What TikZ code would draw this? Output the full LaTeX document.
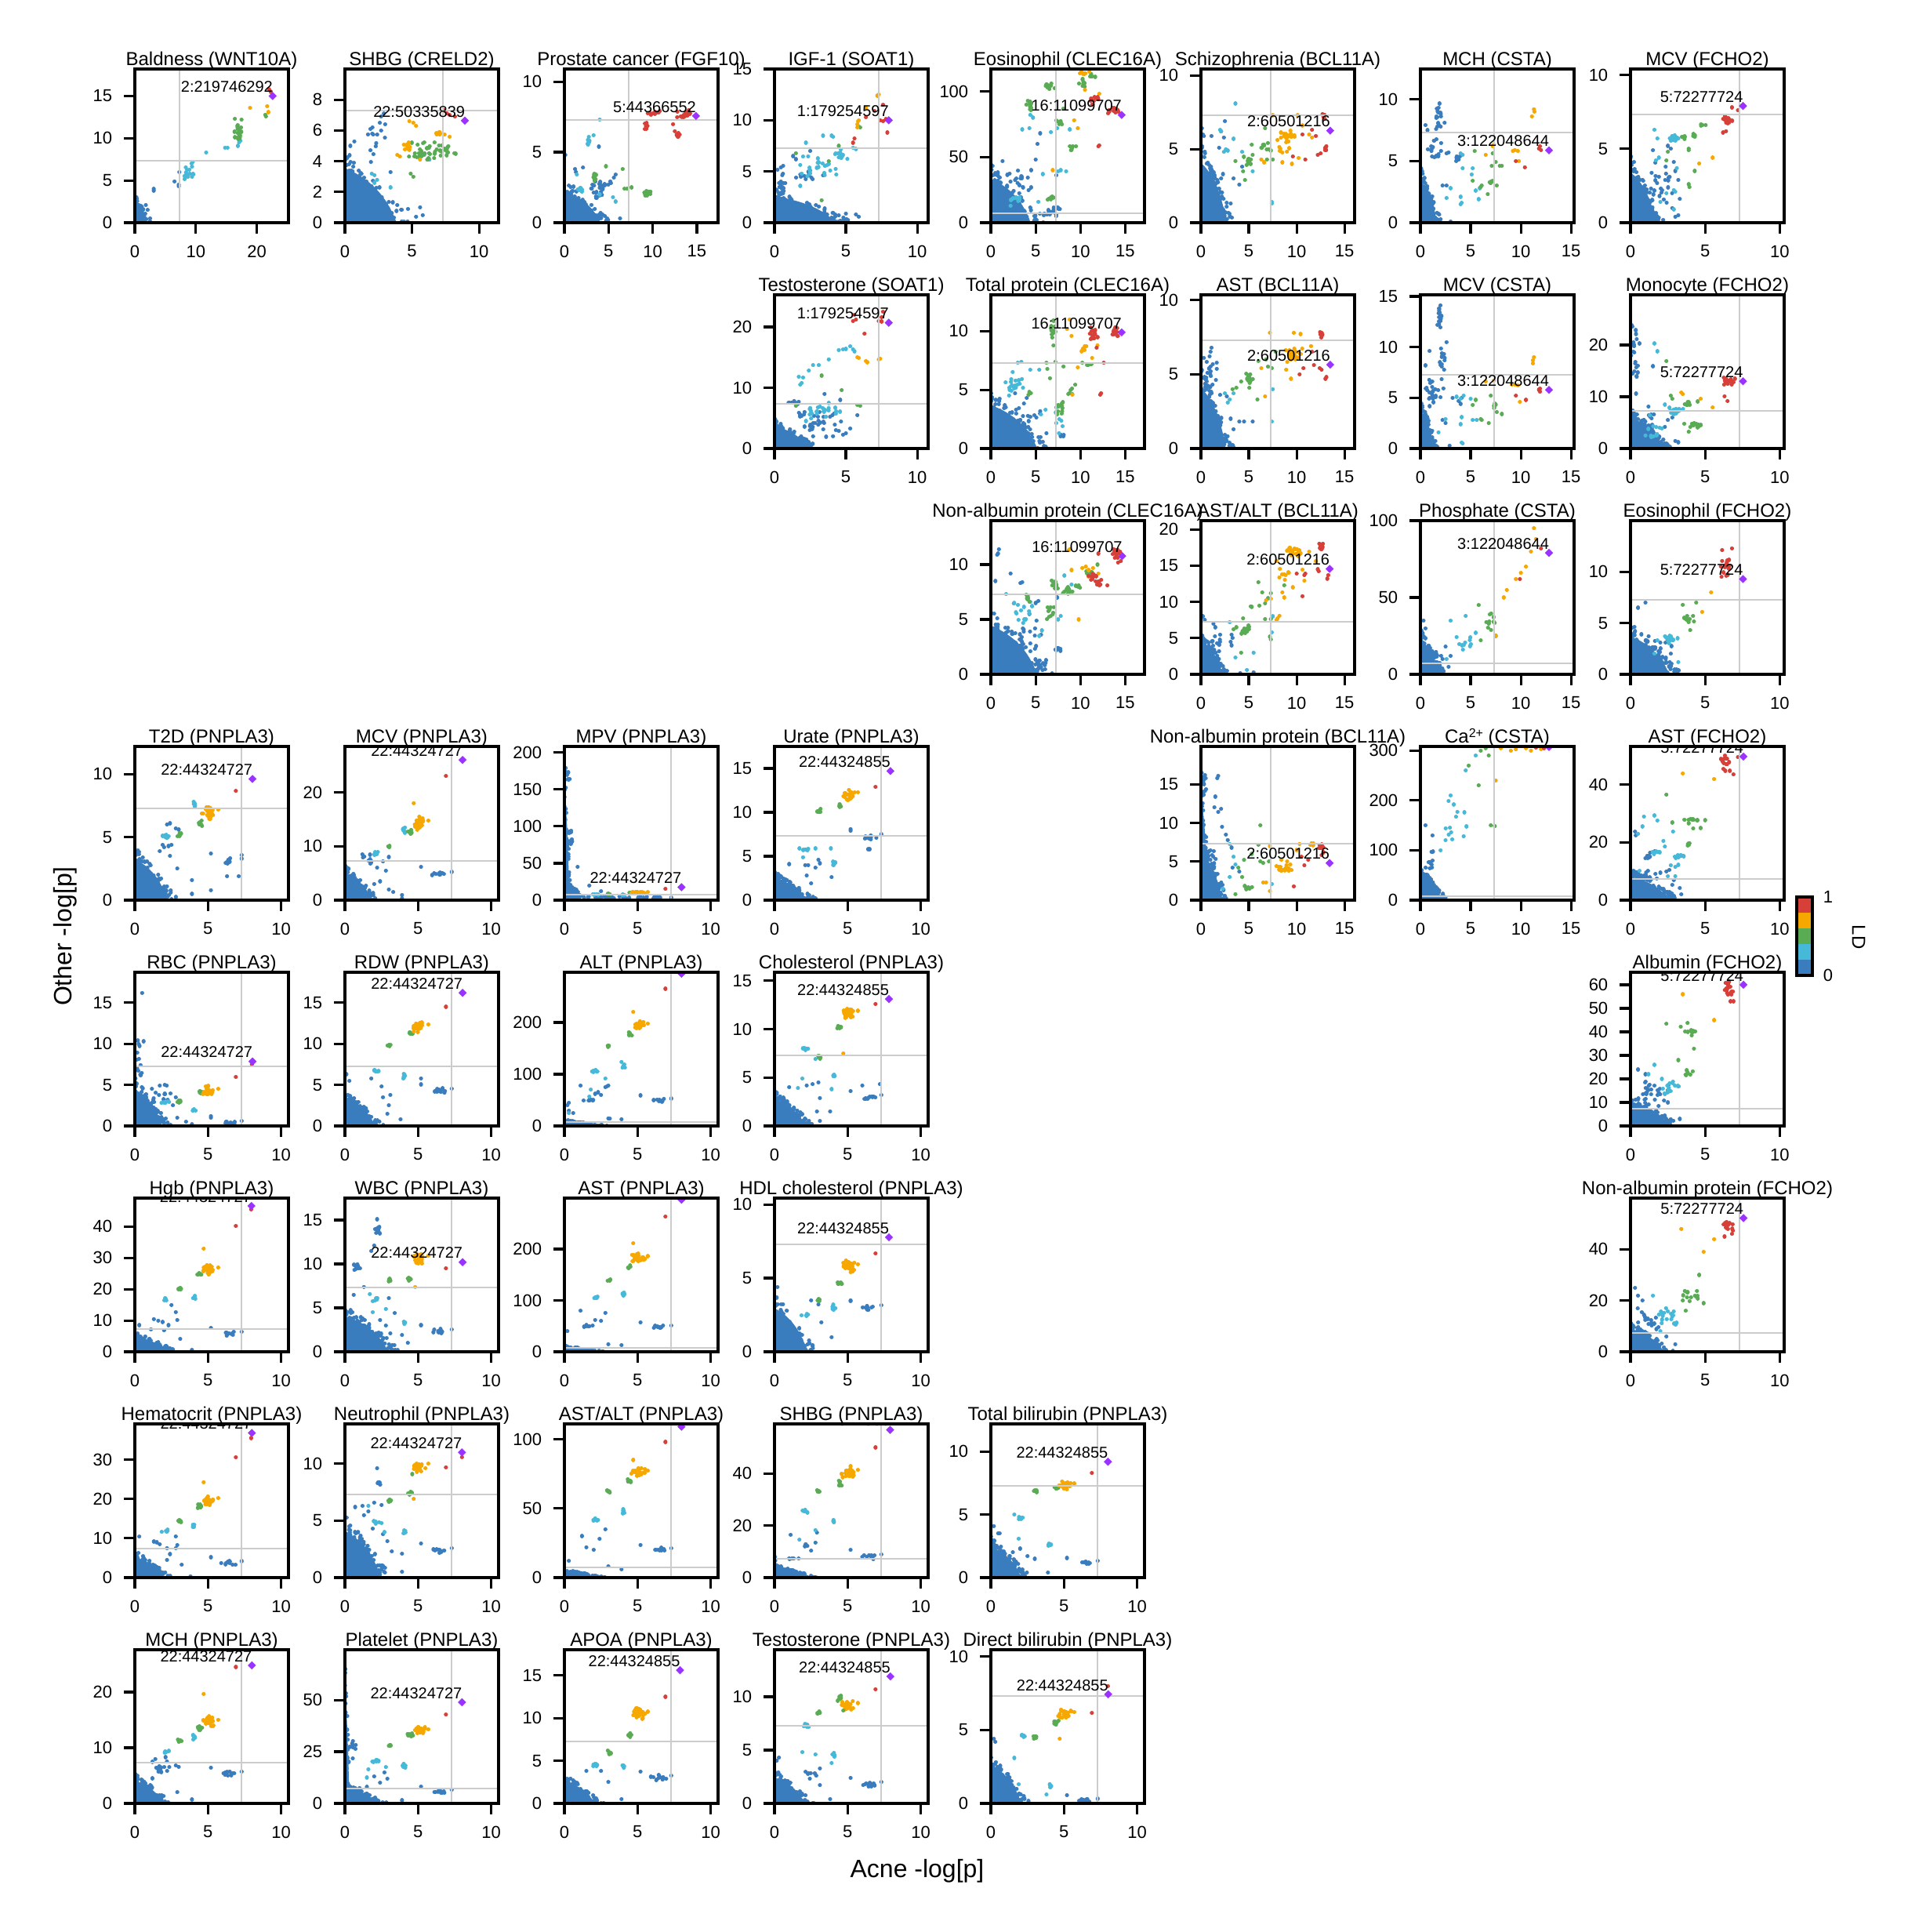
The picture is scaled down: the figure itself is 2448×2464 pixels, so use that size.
\documentclass[tikz,border=0pt]{standalone}
\usepackage{fontspec}
\setmainfont{Liberation Sans}
\definecolor{cb}{RGB}{58,125,190}
\definecolor{clb}{RGB}{70,185,216}
\definecolor{cg}{RGB}{90,172,84}
\definecolor{co}{RGB}{247,168,0}
\definecolor{cr}{RGB}{214,64,56}
\definecolor{cp}{RGB}{155,50,255}
\definecolor{thr}{RGB}{204,204,204}
\tikzset{
 frame/.style={draw=black,line width=0.8pt},
 tk/.style={draw=black,line width=0.8pt},
 ticklab/.style={font=\fontsize{5.5}{6.6}\selectfont,inner sep=0pt},
 ttl/.style={font=\fontsize{6}{7.2}\selectfont,inner sep=0pt,anchor=base},
 snp/.style={font=\fontsize{5}{6}\selectfont,inner sep=0pt,anchor=base east},
 thrline/.style={draw=thr,line width=0.5pt},
 axlab/.style={font=\fontsize{8}{9.6}\selectfont,inner sep=0pt},
 dotst/.style={line width=1.3pt,line cap=round},
}
\newcommand\Dt[3]{\draw[dotst,#1] ({#2},{#3}) -- ++(0.01pt,0pt);}
\newcommand\Dts[2]{\draw[dotst,#1] \foreach \xa/\ya in {#2}{(\xa,\ya) -- ++(0.01pt,0pt)};}
\newcommand\Cl[6]{\draw[dotst,#1] \foreach \ii in {1,...,#2}{({#3+#5*(rand+rand)/2},{#4+#6*(rand+rand)/2}) -- ++(0.01pt,0pt)};}
\newcommand\Bl[3]{%
 \fill[cb] (0,0) -- ({0.74*#2},0) .. controls ({0.6*#2},{0.36*#3}) and ({0.36*#2},{0.6*#3}) .. (0,{0.74*#3}) -- cycle;
 \pgfmathtruncatemacro\nnb{2*#1}%
 \draw[dotst,cb] \foreach \ii [evaluate=\ii as \bsv using rnd, evaluate=\ii as \btv using rnd] in {1,...,\nnb}{({#2*\bsv*\btv},{#3*\bsv*(1-\btv)}) -- ++(0.01pt,0pt)};}
\newcommand\DmN[2]{\fill[cp] ({#1},{#2}) ++(0pt,1.3pt) -- ++(1.3pt,-1.3pt) -- ++(-1.3pt,-1.3pt) -- ++(-1.3pt,1.3pt) -- cycle;}
\newcommand\Dm[3]{\DmN{#1}{#2}\path ({#1},{#2}) ++(0.2pt,1.2pt) node[snp]{#3};}
\newcommand\PN[8]{%
 \Cl{cb}{10}{6.45}{#7}{0.55}{#8*1.5}
 \Dt{cb}{7.3}{#7+#8}
 \Dt{cb}{5.2}{#7+#8*3}
 \Cl{clb}{7}{2.1}{#5}{0.3}{#8}
 \Cl{clb}{7}{4.05}{#6}{0.12}{#8*1.5}
 \Cl{cg}{7}{3.05}{#3}{0.15}{#8}
 \Cl{cg}{7}{4.45}{#4}{0.2}{#8*1.5}
 \Cl{co}{26}{5.05}{#2}{0.5}{#8*3}
 \Dt{co}{5.7}{#2+#8}
 \Dt{cr}{6.9}{#1}}
\newcommand\Panel[9]{%
 \pgfmathsetmacro\sxx{49/#3}%
 \pgfmathsetmacro\syy{49/#4}%
 \begin{scope}[shift={({#1},{#2+196})},x=\sxx pt,y=\syy pt]
  \begin{scope}
   \clip (0,0) rectangle (#3,#4);
   #8
   \draw[thrline] (7.3,0) -- (7.3,#4);
   \draw[thrline] (0,7.3) -- (#3,7.3);
   #9
  \end{scope}
  \draw[frame] (0,0) rectangle (#3,#4);
  \foreach \tv in {#5}{\draw[tk] (\tv,0) -- ++(0pt,-3.5pt); \path (\tv,0) ++(0pt,-7pt) node[ticklab,anchor=north]{\tv};}
  \foreach \tv in {#6}{\draw[tk] (0,\tv) -- ++(-3.5pt,0pt); \path (0,\tv) ++(-7pt,0pt) node[ticklab,anchor=east]{\tv};}
  \path ({#3/2},#4) ++(0pt,1.1pt) node[ttl]{#7};
 \end{scope}}
\begin{document}
\begin{tikzpicture}[x=0.25pt,y=-0.25pt]
\pgfmathsetseed{42}
\fill[white] (0,0) rectangle (2448,2464);
\useasboundingbox (0,0) rectangle (2448,2464);

% ---------------- Row 1
\Panel{172}{88}{25.2}{18.2}{0,10,20}{0,5,10,15}{Baldness (WNT10A)}{
 \Bl{60}{2.6}{3.4}
 \Dts{cb}{1.8/2.1,2.1/1.5,2.5/0.5,3.1/4.0,3.1/3.8,6.5/4.9,7.2/4.5,7.2/4.3,7.3/6.0}
 \Cl{clb}{14}{8.7}{5.9}{1.0}{0.9}
 \Dts{clb}{9.5/7.2,9.3/7.0,11.7/8.3,14.8/8.9,15.2/8.9,17.3/9.7,16.9/9.1,17.1/9.5}
 \Cl{cg}{22}{17.0}{10.7}{0.7}{1.1}
 \Dts{cg}{16.4/12.3,17.5/12.2,21.4/12.8,21.5/12.6}
 \Dts{co}{18.9/13.6,21.7/13.8,21.9/13.1}
 \Dts{cr}{22.0/15.8,22.3/15.5}
}{\Dm{22.6}{15.0}{2:219746292}}

\Panel{440}{88}{11.45}{10}{0,5,10}{0,2,4,6,8}{SHBG (CRELD2)}{
 \Bl{110}{5.2}{4.8}
 \Cl{cb}{10}{2.3}{5.2}{1.0}{1.6}
 \Dts{cb}{2.7/6.9,2.9/7.1,2.6/6.5,3.0/6.4,2.7/6.0,1.9/6.1,1.9/4.7,0.7/5.3,0.4/5.0,5.3/0.4,5.6/1.0,5.8/0.5,4.7/0.9,3.4/3.3}
 \Dts{clb}{2.0/3.2,2.2/3.1,2.4/2.8,2.2/2.6,3.4/2.3,5.9/4.4,6.3/4.1}
 \Cl{cg}{30}{5.6}{4.5}{1.6}{0.8}
 \Cl{cg}{18}{7.4}{4.7}{0.9}{0.6}
 \Dts{cg}{4.9/3.2,5.1/3.0}
 \Cl{co}{8}{4.6}{5.0}{0.4}{0.4}
 \Cl{co}{8}{7.0}{5.75}{0.5}{0.15}
 \Dts{co}{5.3/6.3,5.1/6.5,4.8/6.6,3.9/4.4,4.1/4.3,7.8/5.6,5.6/4.1}
 \Dts{cr}{7.6/7.1,7.8/7.0,8.2/6.9,7.4/7.3}
}{\Dm{8.94}{6.64}{22:50335839}}

\Panel{720}{88}{17.4}{10.9}{0,5,10,15}{0,5,10}{Prostate cancer (FGF10)}{
 \Bl{70}{5.5}{3.0}
 \Cl{cb}{30}{4.3}{2.4}{1.5}{0.8}
 \Cl{cb}{15}{0.7}{1.5}{0.7}{1.4}
 \Dts{cb}{0.1/4.8,1.2/3.8,1.3/3.6,2.1/3.9,3.9/5.4,6.3/0.3,4.3/0.6,3.5/0.5,5.6/3.2,5.8/3.4}
 \Cl{clb}{8}{1.8}{2.3}{0.5}{0.25}
 \Cl{clb}{8}{2.7}{5.8}{0.2}{0.5}
 \Dts{clb}{4.0/7.3,3.3/6.2,5.5/1.8,5.8/1.5,1.4/3.4,4.0/2.0}
 \Cl{cg}{8}{3.4}{3.3}{0.4}{0.4}
 \Dts{cg}{4.7/4.0,6.6/3.8,6.8/2.4,7.1/2.4,7.6/2.5}
 \Cl{cg}{12}{9.4}{2.1}{0.5}{0.2}
 \Cl{cr}{10}{10.2}{7.8}{1.0}{0.2}
 \Cl{cr}{6}{9.3}{6.9}{0.3}{0.5}
 \Cl{cr}{6}{12.8}{6.2}{0.4}{0.3}
 \Cl{cr}{14}{13.6}{7.6}{1.2}{0.4}
 \Dts{cr}{12.3/7.0,12.5/6.5}
}{\Dm{14.9}{7.57}{5:44366552}}

\Panel{988}{88}{10.76}{15}{0,5,10}{0,5,10,15}{IGF-1 (SOAT1)}{
 \Bl{90}{5.8}{3.5}
 \Cl{cb}{30}{0.5}{3.5}{0.5}{3.0}
 \Cl{cb}{10}{2.3}{4.5}{1.0}{1.2}
 \Dts{cb}{5.7/0.8,5.9/0.6,5.0/0.9,1.3/6.5,1.5/6.2,2.5/7.0,3.4/4.6,4.5/0.7,4.0/0.5}
 \Cl{clb}{25}{3.2}{5.5}{1.6}{1.3}
 \Cl{clb}{12}{4.7}{6.7}{0.6}{0.7}
 \Dts{clb}{5.5/7.3,5.7/7.2,3.4/8.5,4.0/8.5,4.1/8.4,2.2/7.8,1.9/4.8,1.8/3.6}
 \Dts{cg}{1.5/6.8,3.3/2.2,5.9/9.4,6.0/9.3,4.5/7.5,3.8/6.0}
 \Dts{co}{5.8/9.6,5.85/9.9,5.9/10.0,6.4/11.2,7.2/12.4,7.3/12.5,5.8/9.3}
 \Dts{cr}{5.5/7.8,5.6/8.2,6.4/10.3,7.4/10.0,7.6/9.9,7.8/10.1,7.9/8.8,7.6/11.5,7.0/10.9}
}{\Dm{8.0}{10.0}{1:179254597}}

\Panel{1264}{88}{17.15}{117}{0,5,10,15}{0,50,100}{Eosinophil (CLEC16A)}{
 \Bl{100}{6.0}{45}
 \Cl{cb}{20}{3.0}{30}{2.0}{12}
 \Cl{cb}{15}{6.5}{7}{1.5}{4}
 \Cl{cb}{8}{7.3}{11}{0.6}{1.0}
 \Dts{cb}{5.5/68,5.2/60,5.0/48,1.3/47,7.3/36,4.5/40}
 \Cl{clb}{8}{2.8}{18}{0.8}{4}
 \Dts{clb}{7.5/39,7.8/40,8.4/39,5.8/37,4.7/80,4.4/82,3.5/71,4.3/72,7.4/72,8.8/71,7.3/78,6.7/69,2.2/13,5.3/16}
 \Cl{cg}{8}{6.7}{18}{0.5}{2.5}
 \Cl{cg}{10}{4.3}{88}{0.5}{6}
 \Cl{cg}{12}{6.5}{104}{0.9}{3}
 \Cl{cg}{8}{7.7}{77}{0.5}{5}
 \Cl{cg}{5}{9.0}{57}{0.3}{3}
 \Cl{cg}{8}{10.3}{106}{0.6}{4}
 \Cl{cg}{6}{11.3}{112}{0.4}{2}
 \Dts{cg}{9.5/58,8.1/87}
 \Cl{co}{6}{10.3}{114}{0.4}{2}
 \Dts{co}{11.0/115,9.3/78,9.7/72,10.5/101,12.1/98,6.9/40}
 \Cl{cr}{8}{11.6}{94}{0.6}{2}
 \Cl{cr}{12}{13.7}{85}{0.8}{3}
 \Dts{cr}{12.1/59,12.0/58,11.3/90}
}{\Dm{14.6}{82}{16:11099707}}

\Panel{1532}{88}{16.05}{10.44}{0,5,10,15}{0,5,10}{Schizophrenia (BCL11A)}{
 \Bl{100}{3.6}{5.5}
 \Cl{cb}{15}{1.3}{3.5}{1.0}{1.5}
 \Dts{cb}{0.1/6.4,0.3/5.9,0.2/6.0,2.5/6.9,1.1/5.9,2.1/6.2,2.4/5.8,1.9/5.1,3.4/3.0,4.0/2.6,4.3/3.8,3.1/1.3,2.3/3.3}
 \Dts{clb}{3.6/8.1,2.0/6.3,2.1/6.2,3.4/5.7,2.4/4.8,2.8/4.9,2.6/5.0,4.3/4.8,5.4/3.5,7.4/1.4,7.4/1.3}
 \Cl{cg}{14}{4.9}{4.3}{0.6}{0.4}
 \Cl{cg}{8}{6.5}{5.2}{0.7}{0.3}
 \Dts{cg}{4.4/3.5,4.6/2.9,5.3/5.3,6.7/6.4,7.1/5.0,7.3/4.9,6.9/4.3,7.5/4.3,3.6/4.2}
 \Cl{co}{25}{9.0}{5.9}{1.5}{0.5}
 \Cl{co}{6}{8.5}{5.0}{0.8}{0.3}
 \Dts{co}{7.5/7.3,10.1/7.3,10.6/6.6,6.3/4.3,6.6/4.1,8.5/4.1,9.5/4.0,11.3/6.0,11.6/5.8,10.2/4.4}
 \Cl{cr}{8}{12.8}{7.3}{0.2}{0.4}
 \Cl{cr}{6}{13.0}{5.1}{0.2}{0.3}
 \Dts{cr}{12.2/4.6,12.5/4.7,10.9/4.3,9.6/4.5,11.6/6.3,12.0/5.9,10.6/6.0}
}{\Dm{13.5}{6.25}{2:60501216}}

\Panel{1812}{88}{15.3}{12.45}{0,5,10,15}{0,5,10}{MCH (CSTA)}{
 \Bl{90}{2.2}{4.6}
 \Cl{cb}{18}{1.8}{8.6}{0.35}{1.2}
 \Cl{cb}{15}{1.3}{6.0}{0.9}{1.3}
 \Cl{cb}{6}{3.9}{5.2}{0.4}{0.3}
 \Dts{cb}{0.5/7.9,0.7/7.5,2.4/8.1,2.6/5.6,2.8/5.7,2.2/3.0,2.6/3.0,1.0/1.0,3.0/0.1}
 \Dts{clb}{4.0/5.6,4.2/5.5,3.0/2.8,4.0/2.1,4.0/1.5,4.1/1.6,5.2/4.4,5.1/3.9,5.5/2.6,5.9/2.8,5.8/1.9,4.2/4.4,2.6/2.0}
 \Dts{cg}{5.2/3.4,5.4/5.8,6.0/2.9,6.1/3.0,6.7/2.3,7.1/4.6,7.2/5.6,7.5/4.9,7.9/4.6,8.1/4.6,7.6/3.0}
 \Cl{cg}{6}{7.0}{3.3}{0.3}{0.2}
 \Dts{co}{6.5/5.5,7.2/6.2,7.3/6.3,9.2/5.8,9.4/5.9,9.7/5.8,11.1/8.6,11.3/9.2,11.35/9.0,9.8/5.0}
 \Dts{cr}{9.5/5.0,10.4/4.5,11.8/6.0,11.9/6.2,12.0/5.9}
}{\Dm{12.8}{5.86}{3:122048644}}

\Panel{2080}{88}{10.3}{10.4}{0,5,10}{0,5,10}{MCV (FCHO2)}{
 \Bl{100}{2.3}{4.6}
 \Cl{cb}{25}{2.1}{2.7}{1.1}{1.7}
 \Dts{cb}{3.0/0.4,3.2/0.5,3.3/1.6,2.8/1.0,1.5/4.9,2.5/5.2,2.7/5.0,2.9/4.1,3.2/2.9,3.0/3.5}
 \Cl{clb}{14}{3.0}{5.7}{0.4}{0.4}
 \Dts{clb}{1.6/6.3,1.8/5.7,1.9/4.4,1.7/4.2,3.0/2.1,2.9/2.2,3.1/3.7,2.4/2.0,2.0/1.4,2.9/0.9}
 \Cl{cg}{6}{3.6}{5.8}{0.2}{0.15}
 \Cl{cg}{6}{4.3}{5.9}{0.2}{0.15}
 \Cl{cg}{4}{4.9}{6.6}{0.2}{0.1}
 \Dts{cg}{3.9/5.0,3.9/4.9,3.9/2.6,3.95/2.4,4.3/3.5,2.5/4.8,2.4/4.2}
 \Dts{co}{4.6/4.0,5.5/4.4}
 \Cl{cr}{16}{6.5}{7.1}{0.4}{0.5}
 \Dts{cr}{6.2/6.1,6.4/6.2,7.2/7.6,6.8/7.8}
}{\Dm{7.54}{7.9}{5:72277724}}

% ---------------- Row 2
\Panel{988}{376}{10.76}{25.3}{0,5,10}{0,10,20}{Testosterone (SOAT1)}{
 \Bl{90}{3.2}{5.0}
 \Cl{cb}{35}{3.0}{4.0}{2.0}{2.8}
 \Cl{cb}{8}{1.2}{7.5}{0.9}{0.4}
 \Dts{cb}{4.3/3.0,4.8/2.3,5.0/2.5,5.3/3.3,5.8/5.5,4.6/8.0,3.5/9.0}
 \Cl{clb}{25}{3.4}{6.0}{1.5}{1.5}
 \Dts{clb}{1.8/10.5,1.9/10.8,2.0/11.7,1.7/11.8,2.4/12.8,2.7/13.7,3.1/13.7,3.8/14.7,4.5/16.2,4.8/16.3,5.0/16.4,5.5/16.3,5.6/16.0,5.3/16.8,3.8/7.5}
 \Dts{cg}{3.3/12.0,4.7/9.6,6.0/7.0,5.8/7.2,1.5/7.0}
 \Dts{co}{5.8/15.0,5.9/14.9,6.4/14.4,6.5/14.2,7.3/14.7,7.4/14.8}
 \Dts{cr}{5.5/21.0,5.7/21.2,5.6/22.0,6.3/18.9,7.3/21.0,7.5/21.6,7.6/22.5,7.5/20.9}
}{\Dm{8.0}{20.7}{1:179254597}}

\Panel{1264}{376}{17.15}{13.1}{0,5,10,15}{0,5,10}{Total protein (CLEC16A)}{
 \Bl{100}{7.0}{5.0}
 \Cl{cb}{20}{3.5}{2.5}{2.5}{1.5}
 \Cl{cb}{6}{7.8}{1.1}{0.4}{0.1}
 \Dts{cb}{6.2/1.3,5.5/3.2,4.0/4.3,3.9/1.8,2.5/1.8,2.7/4.7}
 \Cl{clb}{20}{2.8}{5.5}{1.2}{1.1}
 \Cl{clb}{8}{7.5}{3.0}{0.5}{0.9}
 \Dts{clb}{3.4/7.4,3.0/7.3,4.4/6.7,5.4/6.7,6.1/3.3,5.6/2.9,8.0/1.9,7.6/1.3}
 \Cl{cg}{12}{7.0}{9.8}{0.4}{1.2}
 \Dts{cg}{6.3/6.8,6.2/7.3,6.6/6.0,7.2/7.4,8.1/7.0,10.2/7.3}
 \Cl{cg}{10}{7.9}{3.6}{0.8}{0.8}
 \Cl{cg}{6}{9.0}{4.9}{0.6}{0.6}
 \Cl{cg}{5}{4.4}{4.8}{0.4}{0.3}
 \Cl{cg}{5}{11.0}{7.2}{0.3}{0.2}
 \Dts{co}{8.5/10.2,8.8/11.0,9.0/9.6,11.3/7.7,9.7/6.9,9.1/4.6,11.9/8.8}
 \Cl{co}{8}{10.3}{8.4}{0.4}{0.4}
 \Cl{cr}{15}{11.4}{9.7}{0.7}{0.8}
 \Cl{cr}{16}{14.0}{9.9}{0.6}{0.5}
 \Dts{cr}{12.6/7.3,12.3/4.7,12.2/4.6,11.8/8.6}
}{\Dm{14.6}{9.9}{16:11099707}}

\Panel{1532}{376}{16.05}{10.34}{0,5,10,15}{0,5,10}{AST (BCL11A)}{
 \Bl{100}{3.5}{5.5}
 \Cl{cb}{15}{1.0}{4.5}{0.8}{2.0}
 \Dts{cb}{0.9/6.2,1.0/6.5,1.1/6.8,0.3/6.1,1.0/5.5,1.2/4.3,2.0/3.6,2.7/3.5,3.1/2.0,4.0/1.8,4.5/1.8,5.4/1.8,3.4/1.3}
 \Dts{clb}{2.5/3.7,3.4/3.7,2.8/3.1,7.5/4.0,7.4/1.8,3.0/3.3}
 \Cl{cg}{16}{5.0}{4.6}{0.5}{0.6}
 \Dts{cg}{3.3/4.0,3.7/4.1,4.2/4.5,5.9/3.3,6.0/5.9,7.0/5.5,7.4/5.4,6.8/6.0,7.8/6.5}
 \Cl{co}{22}{9.5}{6.3}{1.3}{0.6}
 \Dts{co}{7.2/7.8,9.7/7.8,10.4/7.7,6.3/5.4,6.7/3.5,9.4/4.7,8.9/5.3,11.5/6.9}
 \Cl{cr}{8}{12.6}{7.6}{0.3}{0.3}
 \Dts{cr}{12.4/5.4,12.6/5.3,13.0/4.7,13.1/4.8,10.7/5.4,10.3/5.0,11.6/6.5,11.8/5.6}
}{\Dm{13.5}{5.64}{2:60501216}}

\Panel{1812}{376}{15.3}{15.15}{0,5,10,15}{0,5,10,15}{MCV (CSTA)}{
 \Bl{90}{1.8}{5.0}
 \Cl{cb}{15}{1.9}{13.0}{0.3}{1.6}
 \Cl{cb}{12}{2.1}{8.5}{0.4}{1.4}
 \Cl{cb}{25}{1.4}{5.5}{1.1}{1.6}
 \Dts{cb}{0.5/8.2,0.9/9.6,2.6/10.5,3.2/5.0,2.2/2.8,2.5/2.5,2.9/0.3,3.8/4.7,4.0/4.4,4.1/5.0}
 \Dts{clb}{4.0/4.9,4.3/5.2,3.6/5.1,4.1/3.1,4.0/2.4,5.2/2.8,5.6/2.8,4.2/0.5,4.1/0.6,2.5/2.9,1.8/1.6,5.0/4.9}
 \Dts{cg}{5.2/4.3,5.5/4.8,6.0/2.9,6.1/2.8,7.0/5.2,7.6/3.6,8.1/3.4,6.8/2.5}
 \Cl{cg}{6}{7.2}{4.2}{0.4}{0.3}
 \Dts{co}{6.5/6.6,7.3/6.7,9.1/6.3,9.4/6.3,9.7/6.2,9.9/4.6,11.2/8.7,11.3/9.0,11.2/8.4}
 \Dts{cr}{9.5/5.2,10.5/4.8,11.8/5.8,11.9/5.9,11.9/5.6}
}{\Dm{12.8}{5.78}{3:122048644}}

\Panel{2080}{376}{10.3}{29.7}{0,5,10}{0,10,20}{Monocyte (FCHO2)}{
 \Bl{100}{3.0}{8.0}
 \Cl{cb}{20}{0.3}{17}{0.3}{10}
 \Cl{cb}{12}{1.4}{5.0}{1.0}{2.5}
 \Dts{cb}{0.6/20.3,1.5/15.9,0.4/14.0,2.5/5.5,2.8/6.0,2.3/4.2,3.0/1.5,3.2/1.2,1.2/8.1}
 \Cl{clb}{18}{3.0}{7.3}{0.6}{0.7}
 \Cl{clb}{10}{1.5}{3.5}{1.2}{1.5}
 \Dts{clb}{1.6/20.3,1.8/18.8,2.3/8.5,1.3/6.4,2.1/3.9}
 \Dts{cg}{2.4/16.9,2.7/10.2,2.8/9.6,4.5/9.1,3.6/4.8,3.9/3.2}
 \Cl{cg}{8}{3.9}{8.5}{0.3}{0.6}
 \Cl{cg}{10}{4.2}{4.5}{0.7}{0.6}
 \Dts{co}{3.4/10.8,3.5/10.5,4.7/9.6,5.5/7.9}
 \Cl{cr}{18}{6.5}{13.0}{0.5}{1.0}
 \Dts{cr}{6.3/10.1,6.5/9.2,7.0/13.5}
}{\Dm{7.54}{13.0}{5:72277724}}

% ---------------- Row 3
\Panel{1264}{664}{17.15}{14.0}{0,5,10,15}{0,5,10}{Non-albumin protein (CLEC16A)}{
 \Bl{110}{7.0}{6.0}
 \Cl{cb}{25}{3.5}{3.0}{2.5}{2.0}
 \Cl{cb}{8}{7.6}{2.3}{0.5}{0.2}
 \Cl{cb}{6}{5.8}{1.0}{0.6}{0.3}
 \Dts{cb}{0.8/11.0,0.9/11.4,0.7/10.9,2.2/9.2,0.5/8.5,3.3/8.3,3.5/8.4,5.0/6.5,5.3/6.7,5.1/4.9,4.3/5.5,7.4/7.0,5.6/3.6}
 \Cl{clb}{15}{3.8}{5.7}{1.5}{1.3}
 \Dts{clb}{1.7/7.3,7.5/5.0,7.8/5.3,9.0/8.2,5.7/4.0,5.4/3.5,8.2/9.0,2.6/6.5}
 \Cl{cg}{14}{7.0}{8.2}{0.5}{0.5}
 \Cl{cg}{8}{4.1}{6.9}{0.3}{0.5}
 \Cl{cg}{10}{6.6}{5.6}{0.6}{0.6}
 \Cl{cg}{10}{8.6}{7.5}{0.7}{0.7}
 \Cl{cg}{6}{9.8}{8.0}{0.4}{0.3}
 \Cl{cg}{6}{10.9}{9.3}{0.5}{0.3}
 \Dts{cg}{11.9/10.0}
 \Dts{co}{8.7/11.3,8.8/11.4,9.8/5.0,9.0/9.5,10.2/9.7,10.6/9.8,10.9/9.5,11.4/9.7,12.0/9.2,10.9/8.9}
 \Cl{cr}{10}{11.4}{8.9}{0.6}{0.6}
 \Cl{cr}{6}{12.1}{8.4}{0.3}{0.4}
 \Cl{cr}{14}{14.0}{11.0}{0.5}{0.5}
 \Dts{cr}{13.0/8.1,12.0/11.0,14.2/10.2,14.5/10.3}
}{\Dm{14.66}{10.77}{16:11099707}}

\Panel{1532}{664}{16.05}{21.2}{0,5,10,15}{0,5,10,15,20}{AST/ALT (BCL11A)}{
 \Bl{100}{3.0}{6.0}
 \Cl{cb}{15}{1.2}{4.0}{1.0}{2.5}
 \Dts{cb}{0.2/8.0,0.4/7.5,1.3/7.0,1.5/6.5,2.0/5.5,3.2/5.5,3.3/5.0,3.1/4.5,3.2/4.0,4.1/0.2,5.5/0.3}
 \Dts{clb}{3.0/7.2,3.6/2.3,4.8/0.6,7.5/8.0,7.4/5.8,5.5/3.0}
 \Cl{cg}{10}{4.8}{6.3}{0.6}{0.7}
 \Dts{cg}{3.4/6.2,3.7/6.5,4.4/7.7,4.2/3.0,5.2/9.4,5.3/9.3,6.1/9.5,6.4/11.3,6.0/12.7,6.7/9.8,7.0/10.5,7.3/11.2,7.3/4.8,7.2/5.2,6.7/7.6,7.3/7.6,8.7/12.3}
 \Cl{co}{20}{9.6}{16.9}{1.4}{0.6}
 \Cl{co}{8}{8.7}{14.0}{0.6}{1.0}
 \Dts{co}{6.8/10.2,7.3/10.4,8.0/7.7,8.2/8.1,7.9/7.5,8.5/11.3,8.7/10.6,9.6/12.0,10.6/14.4,10.8/12.9,11.3/16.9,12.0/15.6,7.9/15.6}
 \Cl{cr}{12}{12.6}{17.6}{0.4}{0.7}
 \Dts{cr}{10.0/13.9,10.8/13.7,10.9/13.9,12.2/14.5,12.3/14.2,13.3/13.7,13.2/13.2,10.6/10.8}
}{\Dm{13.44}{14.54}{2:60501216}}

\Panel{1812}{664}{15.3}{100}{0,5,10,15}{0,50,100}{Phosphate (CSTA)}{
 \Bl{90}{2.5}{30}
 \Cl{cb}{12}{1.5}{12}{1.2}{8}
 \Dts{cb}{0.3/35,0.5/30,2.5/18,3.0/12,2.8/5}
 \Cl{clb}{10}{4.2}{22}{1.2}{8}
 \Dts{clb}{3.0/35,4.5/38,5.5/27,2.6/10}
 \Cl{cg}{10}{7.0}{35}{0.6}{8}
 \Dts{cg}{6.0/22,7.5/25,5.8/45}
 \Dts{co}{8.3/50,8.6/55,9.5/62,10.0/66,11.0/80,11.3/95,11.5/88,10.5/70,7.5/25}
 \Dts{cr}{9.9/62,12.0/82}
}{\Dm{12.8}{79}{3:122048644}}

\Panel{2080}{664}{10.3}{15}{0,5,10}{0,5,10}{Eosinophil (FCHO2)}{
 \Bl{100}{3.5}{5.0}
 \Cl{cb}{15}{1.8}{2.5}{1.2}{1.5}
 \Dts{cb}{0.5/6.5,1.0/7.0,2.7/2.0}
 \Cl{clb}{14}{2.7}{3.5}{0.5}{0.6}
 \Dts{clb}{1.8/3.3,1.6/2.0,3.2/1.2}
 \Cl{cg}{10}{3.9}{5.4}{0.5}{0.6}
 \Dts{cg}{3.5/6.8,4.4/7.0,4.0/4.3}
 \Dts{co}{5.4/8.0,4.8/6.1}
 \Cl{cr}{14}{6.4}{11.0}{0.4}{1.4}
 \Dts{cr}{6.8/12.3,6.1/9.5}
}{\Dm{7.54}{9.3}{5:72277724}}

% ---------------- Row 4
\Panel{172}{952}{10.5}{12.2}{0,5,10}{0,5,10}{T2D (PNPLA3)}{
 \Bl{100}{3.0}{4.4}
 \Dts{cb}{2.2/6.0,2.4/6.1,2.8/5.7,3.0/5.6,2.0/4.2,1.7/3.9,2.4/3.5,2.9/2.5,3.9/1.6,3.9/0.5,5.2/0.8,6.3/1.9,7.1/1.9,7.3/3.6,2.5/4.4,2.3/4.3,1.9/4.4}
 \PN{8.66}{7.0}{5.2}{6.1}{5.0}{7.6}{3.1}{0.2}
}{\Dm{8.04}{9.62}{22:44324727}}

\Panel{440}{952}{10.5}{28.5}{0,5,10}{0,10,20}{MCV (PNPLA3)}{
 \Bl{100}{2.5}{6.5}
 \Cl{cb}{10}{1.6}{7.5}{0.6}{1.2}
 \Dts{cb}{2.2/6.0,2.6/7.2,3.0/8.0,2.8/5.5,2.4/3.5,3.9/1.0,3.9/0.3,3.0/2.0,3.3/1.5,2.0/3.0}
 \PN{23}{14.3}{9.8}{12.7}{8.6}{12.9}{4.8}{0.45}
 \Dt{co}{4.7}{18}
}{\Dm{8.04}{26.0}{22:44324727}}

\Panel{720}{952}{10.5}{208}{0,5,10}{0,50,100,150,200}{MPV (PNPLA3)}{
 \Bl{50}{1.6}{30}
 \Bl{60}{0.45}{200}
 \Cl{cb}{12}{0.35}{88}{0.3}{14}
 \Cl{cb}{8}{0.25}{170}{0.2}{15}
 \Cl{cb}{25}{3.7}{4}{3.6}{2.5}
 \Dts{cb}{1.7/20,2.5/12,0.9/45}
 \PN{15.2}{10.3}{8.5}{10}{7.5}{7}{3}{0.5}
}{\Dm{8.0}{17.5}{22:44324727}}

\Panel{988}{952}{10.5}{17.5}{0,5,10}{0,5,10,15}{Urate (PNPLA3)}{
 \Bl{110}{3.0}{3.3}
 \Dts{cb}{1.0/4.1,2.1/4.0,2.3/4.0,2.2/2.8,2.8/3.7,3.0/4.6,3.1/4.2,3.9/2.6,2.5/1.9,5.2/7.9}
 \PN{12.9}{12.0}{10.2}{10.7}{5.9}{4.3}{7.2}{0.3}
 \Dts{clb}{1.7/5.9,2.8/5.9,3.85/5.9,1.95/4.9}
 \Dts{cb}{6.4/5.8,6.5/5.8}
}{\Dm{7.92}{14.7}{22:44324855}}

\Panel{1532}{952}{16.05}{19.9}{0,5,10,15}{0,5,10,15}{Non-albumin protein (BCL11A)}{
 \Bl{110}{3.0}{8.0}
 \Bl{50}{1.0}{18}
 \Cl{cb}{10}{0.4}{15}{0.3}{2.5}
 \Cl{cb}{10}{1.0}{5.5}{0.8}{1.5}
 \Dts{cb}{1.7/15.8,1.8/16.1,1.5/13.4,1.8/11.4,2.1/11.8,2.2/9.5,2.6/8.5,2.8/7.8,3.2/6.8,3.3/4.2,1.4/12,0.8/6.3,4.0/3.7}
 \Dts{clb}{3.0/7.3,3.4/5.6,3.6/4.6,7.4/2.1,3.0/3.0,2.3/1.5}
 \Cl{cg}{10}{4.9}{1.6}{0.6}{0.3}
 \Dts{cg}{3.9/4.2,4.5/5.2,6.2/9.7,6.0/7.2,6.2/5.0,6.5/4.8,7.1/5.0,3.6/0.8,4.3/3.0,5.3/6.0}
 \Cl{co}{16}{8.8}{4.0}{1.3}{0.9}
 \Cl{co}{5}{11.5}{7.2}{0.6}{0.3}
 \Dts{co}{6.5/2.3,6.8/2.3,7.2/1.2,7.2/7.0,10.0/6.5,10.3/7.3,9.0/5.0,8.4/5.2}
 \Cl{cr}{10}{12.5}{7.0}{0.5}{0.5}
 \Dts{cr}{10.5/5.6,11.2/5.2,9.7/1.8,10.8/4.5,12.6/5.8,12.8/6.2}
}{\Dm{13.44}{4.8}{2:60501216}}

\Panel{1812}{952}{15.3}{308}{0,5,10,15}{0,100,200,300}{Ca{\fontsize{4}{4}\selectfont\raisebox{1.9pt}{2+}} (CSTA)}{
 \Bl{100}{2.8}{70}
 \Cl{cb}{12}{1.0}{80}{0.8}{30}
 \Dts{cb}{0.5/150,1.2/130}
 \Cl{clb}{12}{3.5}{160}{1.5}{60}
 \Dts{clb}{2.0/100,2.5/120,4.5/260,5.5/290,3.0/210}
 \Dts{cg}{6.0/300,6.5/305,7.0/150,7.4/148,6.8/290,5.8/230,4.8/270}
 \Dts{co}{8.0/305,9.0/300,9.5/302,10.5/305,11.0/300,12.0/303,7.5/240}
 \Dts{cr}{11.5/306,12.3/305}
}{\DmN{12.8}{307}}

\Panel{2080}{952}{10.3}{53.2}{0,5,10}{0,20,40}{AST (FCHO2)}{
 \Bl{110}{3.5}{11}
 \Cl{cb}{20}{1.0}{8}{0.8}{2.5}
 \Cl{cb}{10}{1.3}{15.5}{0.4}{1.5}
 \Dts{cb}{0.3/23.7,0.35/22.5,2.0/9.5,2.4/10.0,2.6/10.5,2.9/7,3.3/4.2,3.4/2.0,2.8/5.3,1.5/3.5}
 \Cl{clb}{12}{3.15}{15.2}{0.45}{0.8}
 \Cl{clb}{8}{1.7}{16.5}{0.3}{0.8}
 \Dts{clb}{0.9/29,1.6/29.3,1.8/27.6,0.8/25.5,0.5/23,2.85/23.7,2.2/20.5,2.3/18.5,2.7/12,3.0/11.5,3.2/12.2,2.5/8.3,3.0/8.3,0.6/10.1}
 \Cl{cg}{12}{4.3}{27.8}{0.9}{0.5}
 \Cl{cg}{6}{3.9}{19.3}{0.2}{0.6}
 \Dts{cg}{3.9/26.6,4.2/24.8,4.7/25,2.8/26.9,2.4/36.6}
 \Dts{co}{3.5/43.9,5.6/41.9}
 \Cl{cr}{16}{6.4}{47.5}{0.5}{3.5}
 \Dts{cr}{6.9/43.5,7.2/49.5}
}{\Dm{7.57}{49.7}{5:72277724}}

% ---------------- Row 5
\Panel{172}{1240}{10.5}{18.7}{0,5,10}{0,5,10,15}{RBC (PNPLA3)}{
 \Bl{100}{2.5}{6.0}
 \Cl{cb}{12}{0.25}{8}{0.25}{2.5}
 \Dts{cb}{0.5/16.2,0.2/10.4,0.6/10.3}
 \Cl{cb}{15}{1.8}{3.8}{0.9}{1.5}
 \Dts{cb}{2.6/2.5,2.9/1.0,3.9/0.2,5.2/1.2,3.5/0.5,2.8/3.5}
 \PN{5.97}{4.3}{2.97}{4.1}{2.9}{1.9}{0.4}{0.2}
 \Dt{cr}{8.0}{7.5}
}{\Dm{8.04}{7.85}{22:44324727}}

\Panel{440}{1240}{10.5}{18.7}{0,5,10}{0,5,10,15}{RDW (PNPLA3)}{
 \Bl{100}{2.8}{4.5}
 \Dts{cb}{0.1/6.3,0.3/5.5,1.8/5.8,2.5/4.8,2.6/3.5,3.0/2.5,3.8/0.8,5.2/5.8,3.1/3.8,2.9/1.5}
 \PN{14.5}{12.1}{9.8}{11.3}{6.7}{6.0}{4.3}{0.25}
}{\Dm{8.04}{16.2}{22:44324727}}

\Panel{720}{1240}{10.5}{296.7}{0,5,10}{0,100,200}{ALT (PNPLA3)}{
 \Bl{70}{3.0}{12}
 \Cl{cb}{8}{1.7}{50}{0.4}{3}
 \Dts{cb}{1.1/78,2.1/62,2.3/65,2.5/60,2.8/75,3.0/78,2.9/76,3.0/15,3.1/14,3.9/13,0.2/40,0.3/45,0.6/25,0.3/30}
 \Dts{clb}{2.8/92,1.8/70,1.7/57,0.3/25,3.9/124}
 \PN{265}{195}{155}{177}{106}{115}{50}{3}
 \Dt{co}{4.7}{220}
}{\DmN{8.0}{294}}

\Panel{988}{1240}{10.5}{15.86}{0,5,10}{0,5,10,15}{Cholesterol (PNPLA3)}{
 \Bl{100}{2.8}{3.8}
 \Dts{cb}{1.0/4.0,2.2/4.2,2.6/4.3,3.0/4.5,3.1/2.9,2.9/1.5,3.1/0.5,3.8/1.5,7.2/4.3,6.0/4.2}
 \Dts{clb}{1.9/4.9,1.6/3.9,3.9/3.8,2.8/6.9}
 \PN{12.6}{11.7}{7.1}{10.3}{8.0}{5.1}{3.0}{0.2}
 \Dt{co}{4.7}{7.5}
}{\Dm{7.82}{13.1}{22:44324855}}

\Panel{2080}{1240}{10.3}{65.3}{0,5,10}{0,10,20,30,40,50,60}{Albumin (FCHO2)}{
 \Bl{100}{3.5}{14}
 \Cl{cb}{25}{1.5}{14}{1.2}{6}
 \Dts{cb}{0.5/24,1.0/22,2.5/10,3.3/3}
 \Cl{clb}{15}{2.6}{16}{0.7}{4}
 \Dts{clb}{1.2/22,1.6/26,2.1/20}
 \Cl{cg}{10}{3.7}{41}{0.8}{4}
 \Cl{cg}{6}{3.8}{22}{0.4}{2}
 \Dts{cg}{4.25/32.9,2.4/43.4,3.2/28}
 \Dts{co}{3.5/56,5.6/45}
 \Cl{cr}{16}{6.5}{58}{0.5}{5}
 \Dts{cr}{6.7/53,6.9/53}
}{\Dm{7.57}{60}{5:72277724}}

% ---------------- Row 6
\Panel{172}{1528}{10.5}{49.1}{0,5,10}{0,10,20,30,40}{Hgb (PNPLA3)}{
 \Bl{100}{3.0}{6.5}
 \Dts{cb}{2.5/15,2.8/12.7,2.9/10.2,1.3/10.5,1.6/10.0,1.9/9.5,2.3/8.5,2.0/6.8,3.1/4.1,3.9/0.6,1.1/7.2,0.3/8.5}
 \PN{40.2}{26.3}{20.2}{24.8}{16.7}{17.4}{5.8}{0.6}
 \Dt{co}{4.7}{33}
 \Dt{cr}{7.95}{45.5}
}{\Dm{7.97}{46.6}{22:44324727}}

\Panel{440}{1528}{10.5}{17.5}{0,5,10}{0,5,10,15}{WBC (PNPLA3)}{
 \Bl{130}{4.0}{5.5}
 \Cl{cb}{10}{2.3}{13.8}{0.3}{0.8}
 \Cl{cb}{10}{0.9}{9.6}{0.4}{0.6}
 \Dts{cb}{2.2/15.1,1.8/11.5,2.0/12.1,1.3/7.4,0.6/6.5,2.4/3.6,2.8/3.0,3.1/2.1,3.9/1.9,4.3/1.0,5.2/3.0,3.4/4.4,3.0/6.1}
 \Dts{clb}{1.7/6.6,2.8/4.9,1.9/4.5}
 \PN{9.5}{10.7}{8.2}{8.3}{6.0}{3.2}{2.3}{0.25}
 \Dt{co}{4.8}{7.4}
}{\Dm{8.04}{10.2}{22:44324727}}

\Panel{720}{1528}{10.5}{299}{0,5,10}{0,100,200}{AST (PNPLA3)}{
 \Bl{70}{3.0}{12}
 \Cl{cb}{6}{1.7}{50}{0.4}{3}
 \Dts{cb}{1.1/80,1.5/52,2.1/62,2.5/60,2.8/76,3.0/15,3.9/13,0.2/40}
 \PN{263}{183}{139}{165}{105}{112}{48}{3}
 \Dt{co}{4.7}{211}
}{\DmN{8.0}{296}}

\Panel{988}{1528}{10.5}{10.43}{0,5,10}{0,5,10}{HDL cholesterol (PNPLA3)}{
 \Bl{100}{3.0}{4.0}
 \Dts{cb}{2.5/3.5,3.0/3.2,3.2/2.0,0.2/4.4,3.9/1.0,5.2/3.5}
 \PN{6.67}{5.8}{3.5}{4.7}{2.5}{3.0}{3.0}{0.15}
}{\Dm{7.82}{7.77}{22:44324855}}

\Panel{2080}{1528}{10.3}{60}{0,5,10}{0,20,40}{Non-albumin protein (FCHO2)}{
 \Bl{100}{3.0}{12}
 \Cl{cb}{20}{1.2}{12}{1.0}{6}
 \Dts{cb}{0.3/25,0.5/22,0.8/20,2.4/6,3.0/3}
 \Cl{clb}{18}{2.5}{14}{0.9}{4}
 \Dts{clb}{1.5/22,2.0/8}
 \Cl{cg}{12}{4.1}{22}{0.6}{3}
 \Dts{cg}{3.5/20,4.9/19,3.7/16,4.6/30}
 \Dts{co}{3.4/48,4.9/39,5.6/44}
 \Cl{cr}{16}{6.5}{49}{0.45}{3}
 \Dts{cr}{6.3/45,6.8/46}
}{\Dm{7.57}{52.2}{5:72277724}}

% ---------------- Row 7
\Panel{172}{1816}{10.5}{39.1}{0,5,10}{0,10,20,30}{Hematocrit (PNPLA3)}{
 \Bl{100}{2.6}{7.0}
 \Dts{cb}{0.3/10.4,1.3/9.2,1.5/9.0,1.7/8.5,2.2/7.5,2.8/7.5,2.9/8.3,2.2/4.5,2.4/6.0,3.2/3.3,3.8/0.3,2.8/10.5}
 \PN{30.6}{19.7}{14.4}{18.1}{11.9}{13.2}{3.7}{0.5}
 \Dt{co}{4.7}{24.3}
 \Dt{cr}{7.95}{35.5}
}{\Dm{8.0}{36.8}{22:44324727}}

\Panel{440}{1816}{10.5}{13.5}{0,5,10}{0,5,10}{Neutrophil (PNPLA3)}{
 \Bl{130}{3.3}{5.5}
 \Cl{cb}{6}{2.3}{8.3}{0.3}{0.2}
 \Dts{cb}{2.2/9.6,1.2/6.3,1.3/5.5,1.9/4.3,2.6/3.8,2.9/3.2,3.2/2.3,3.9/2.1,3.9/0.5,1.6/5.8,2.5/6.4,2.0/6.6,0.7/6.2}
 \Dts{clb}{1.6/6.3,2.5/4.8,2.7/4.0}
 \PN{9.7}{9.8}{6.8}{7.4}{4.9}{4.0}{2.4}{0.2}
 \Dt{co}{4.7}{6.9}
 \Dt{cg}{4.6}{9.1}
 \Dt{cr}{8.0}{10.6}
}{\Dm{8.0}{11.0}{22:44324727}}

\Panel{720}{1816}{10.5}{111}{0,5,10}{0,50,100}{AST/ALT (PNPLA3)}{
 \Bl{80}{3.0}{6}
 \Dts{cb}{1.2/30,1.5/22,2.0/20,2.4/28,2.8/35,3.0/8,3.9/6,0.3/12}
 \PN{98}{76}{62}{70}{42}{48}{20}{1.2}
 \Dt{co}{4.7}{85}
}{\DmN{8.0}{109}}

\Panel{988}{1816}{10.5}{59}{0,5,10}{0,20,40}{SHBG (PNPLA3)}{
 \Bl{90}{3.0}{5.0}
 \Bl{20}{0.3}{9}
 \Cl{cb}{5}{2.2}{12.5}{0.3}{0.5}
 \Cl{cb}{6}{1.3}{7.3}{0.5}{0.2}
 \Dts{cb}{1.1/16.5,2.8/13.5,2.9/17.2,2.5/10.3}
 \Dts{clb}{2.8/18.2,1.7/14.5}
 \PN{50}{40.5}{33}{36}{25.4}{21.4}{8.2}{0.8}
}{\Dm{7.9}{56.7}{22:44324855}}

\Panel{1264}{1816}{10.5}{12.2}{0,5,10}{0,5,10}{Total bilirubin (PNPLA3)}{
 \Bl{100}{2.8}{3.3}
 \Dts{cb}{0.2/4.1,0.5/3.5,0.6/3.5,1.5/2.0,2.0/2.3,2.5/1.7,3.0/1.5,3.9/0.4}
 \Dts{clb}{1.6/5.0,1.9/3.1}
 \PN{8.3}{7.35}{6.9}{7.1}{4.7}{2.6}{1.2}{0.12}
}{\Dm{8.0}{9.2}{22:44324855}}

% ---------------- Row 8
\Panel{172}{2104}{10.5}{27.6}{0,5,10}{0,10,20}{MCH (PNPLA3)}{
 \Bl{100}{2.6}{5.5}
 \Cl{cb}{12}{1.8}{6.5}{0.7}{1.3}
 \Dts{cb}{1.4/8.0,2.1/8.3,2.8/6.8,3.0/6.6,3.9/0.7,2.9/2.0,1.2/4.5}
 \PN{24.5}{14.7}{11.3}{13.7}{9.3}{11.9}{5.4}{0.35}
 \Dt{co}{4.7}{19.7}
}{\Dm{8.0}{24.8}{22:44324727}}

\Panel{440}{2104}{10.5}{74.3}{0,5,10}{0,25,50}{Platelet (PNPLA3)}{
 \Bl{100}{3.0}{10}
 \Bl{30}{0.4}{72}
 \Cl{cb}{8}{0.5}{28}{0.3}{7}
 \Dts{cb}{2.0/13,2.4/10,2.7/15,2.9/12,1.5/8,1.0/7.5,3.9/1.5}
 \Dts{clb}{1.6/16.5,2.8/17.5,1.5/12.5}
 \PN{42.9}{35}{27.9}{32.9}{20.4}{18.2}{5.7}{0.8}
}{\Dm{8.0}{48.9}{22:44324727}}

\Panel{720}{2104}{10.5}{18}{0,5,10}{0,5,10,15}{APOA (PNPLA3)}{
 \Bl{90}{2.8}{3.5}
 \Dts{cb}{2.5/3.8,3.0/2.5,3.9/0.5,1.5/3.8}
 \PN{12.5}{10.5}{6.0}{8.0}{4.5}{4.5}{3.0}{0.25}
}{\Dm{7.9}{15.6}{22:44324855}}

\Panel{988}{2104}{10.5}{14.4}{0,5,10}{0,5,10}{Testosterone (PNPLA3)}{
 \Bl{100}{2.8}{3.2}
 \Cl{cb}{8}{2.5}{2.8}{0.5}{0.6}
 \Dts{cb}{0.3/4.3,0.15/4.0,3.1/1.7,3.8/0.4,3.1/3.3}
 \Dts{clb}{1.9/4.8,2.8/4.6,3.9/3.8}
 \PN{10.7}{9.2}{8.5}{9.9}{7.3}{4.6}{1.8}{0.2}
 \Dt{cg}{4.7}{8.7}
}{\Dm{7.92}{11.9}{22:44324855}}

\Panel{1264}{2104}{10.5}{10.46}{0,5,10}{0,5,10}{Direct bilirubin (PNPLA3)}{
 \Bl{100}{2.8}{3.5}
 \Dts{cb}{0.2/4.4,0.3/4.2}
 \Dts{clb}{1.6/3.1,1.9/1.3,3.8/0.6}
 \PN{6.15}{6.1}{4.5}{5.5}{4.6}{1.2}{0.2}{0.12}
 \Dt{co}{4.7}{4.4}
 \Dt{cr}{8.0}{8.0}
}{\Dm{8.02}{7.43}{22:44324855}}

% ---------------- colour bar and axis labels
\fill[cr]  (2292,1144) rectangle (2312,1164);
\fill[co]  (2292,1164) rectangle (2312,1184);
\fill[cg]  (2292,1184) rectangle (2312,1204);
\fill[clb] (2292,1204) rectangle (2312,1224);
\fill[cb]  (2292,1224) rectangle (2312,1244);
\draw[frame] (2292,1144) rectangle (2312,1244);
\node[ticklab,anchor=west] (cbone) at (2325,1144) {1};
\node[ticklab,anchor=west] (cbzero) at (2325,1244) {0};
\node[font=\fontsize{6}{7.2}\selectfont,inner sep=0pt,rotate=-90] (ldlab) at (2371,1195) {LD};
\node[axlab,anchor=base] (xlab) at (1170,2394) {Acne -log[p]};
\node[axlab,rotate=90] (ylab) at (83,1194) {Other -log[p]};
\end{tikzpicture}
\end{document}
